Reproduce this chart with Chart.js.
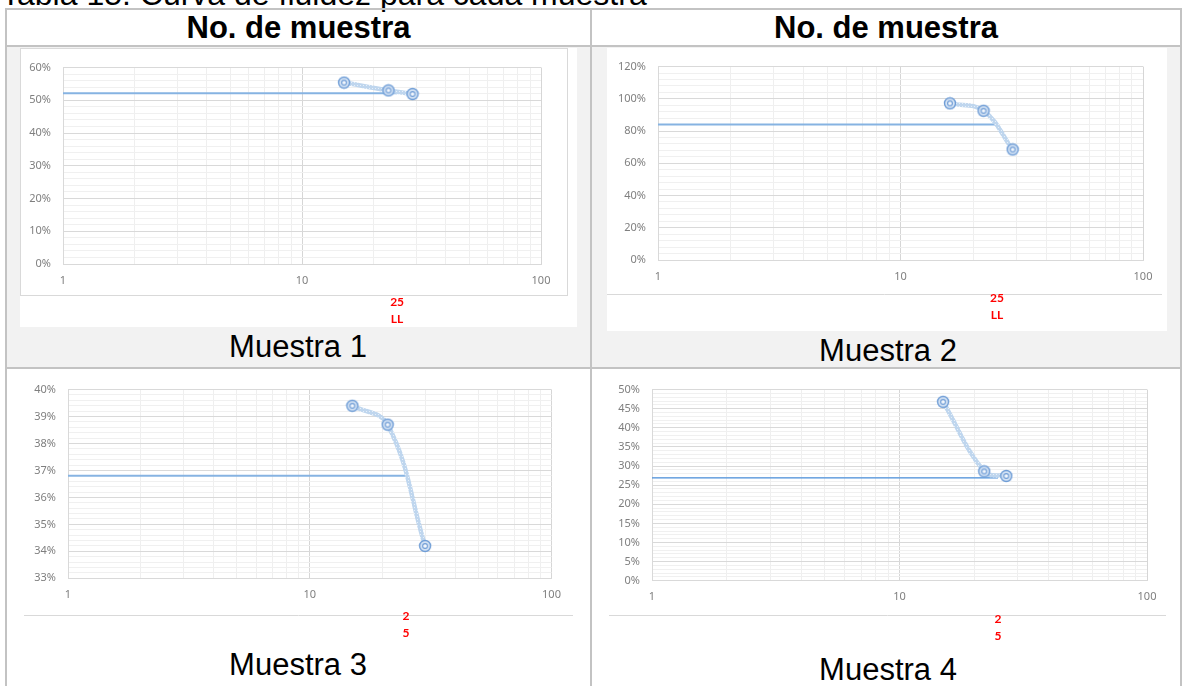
<!DOCTYPE html>
<html lang="es">
<head>
<meta charset="utf-8">
<title>Curva de fluidez para cada muestra</title>
<script src="https://cdn.jsdelivr.net/npm/chart.js@4.4.1/dist/chart.umd.min.js"></script>
<style>
  html, body { margin: 0; padding: 0; background: #fff; }
  body { width: 1184px; height: 686px; position: relative; overflow: hidden; font-family: Arial, "Liberation Sans", sans-serif; color: #000; }
  .txt { position: absolute; white-space: nowrap; line-height: 1; }
  .centro { text-align: center; }
  .borde { position: absolute; background: #c3c3c3; }
  .gris { position: absolute; background: #f2f2f2; }
  .grafico { position: absolute; }
</style>
</head>
<body>

<div class="txt" style="left:1px; top:-22px; font-size:32px;">Tabla 15: Curva de fluidez para cada muestra</div>

<!-- fondo gris de la primera fila de gráficos -->
<div class="gris" style="left:7px; top:47px; width:583px; height:320px;"></div>
<div class="gris" style="left:592px; top:47px; width:588px; height:320px;"></div>

<!-- bordes de la tabla -->
<div class="borde" style="left:5px; top:8px; width:1177px; height:2px;"></div>
<div class="borde" style="left:5px; top:45px; width:1177px; height:2px;"></div>
<div class="borde" style="left:5px; top:367px; width:1177px; height:2px;"></div>
<div class="borde" style="left:5px; top:8px; width:2px; height:678px;"></div>
<div class="borde" style="left:590px; top:8px; width:2px; height:678px;"></div>
<div class="borde" style="left:1180px; top:8px; width:2px; height:678px;"></div>

<div class="txt centro" style="left:7px; width:583px; top:12px; font-size:31px; font-weight:bold;">No. de muestra</div>
<div class="txt centro" style="left:592px; width:588px; top:12px; font-size:31px; font-weight:bold;">No. de muestra</div>

<div class="grafico" id="caja1"><canvas id="g1"></canvas></div>
<div class="grafico" id="caja2"><canvas id="g2"></canvas></div>
<div class="grafico" id="caja3"><canvas id="g3"></canvas></div>
<div class="grafico" id="caja4"><canvas id="g4"></canvas></div>

<div class="txt centro" style="left:198px; width:200px; top:331px; font-size:31px;">Muestra 1</div>
<div class="txt centro" style="left:788px; width:200px; top:335px; font-size:31px;">Muestra 2</div>
<div class="txt centro" style="left:198px; width:200px; top:649px; font-size:31px;">Muestra 3</div>
<div class="txt centro" style="left:788px; width:200px; top:654px; font-size:31px;">Muestra 4</div>

<script>
// número de golpes (eje X logarítmico) y contenido de humedad (%)
const etiquetasX = [1, 10, 100];
const golpesLL = 25;

const golpes1 = [15, 23, 29];
const humedad1 = [55.4, 53.0, 51.9];

const golpes2 = [16, 22, 29];
const humedad2 = [97.2, 92.6, 68.6];

const golpes3 = [15, 21, 30];
const humedad3 = [39.4, 38.7, 34.2];

const golpes4 = [15, 22, 27];
const humedad4 = [46.8, 28.6, 27.4];

// humedad a los 25 golpes (límite líquido)
const limiteLiquido = [52.1, 84.1, 36.8, 26.9];

// rangos y divisiones del eje Y (%)
const ejeYMin = [0, 0, 33, 0];
const ejeYMax = [60, 120, 40, 50];
const pasoMayor = [10, 20, 1, 5];
const pasoMenor = [2, 4, 0.2, 1];

const rotulosLL = [['25', 'LL'], ['25', 'LL'], ['2', '5'], ['2', '5']];

const golpes = [golpes1, golpes2, golpes3, golpes4];
const humedad = [humedad1, humedad2, humedad3, humedad4];

// ubicación de cada gráfico en la página: caja, área de trazado y marco
const marcos = [
  { x: 20,  y: 48,  w: 557, h: 279, fondo: '#fff', plot: [63, 67.5, 541, 264],      marco: 'caja',  lineaY: 295, x0: 20,  x1: 567 },
  { x: 607, y: 48,  w: 560, h: 283, fondo: '#fff', plot: [658, 61.7, 1143, 260],     marco: 'linea', lineaY: 294, x0: 607, x1: 1162 },
  { x: 8,   y: 371, w: 570, h: 275, fondo: 'transparent', plot: [68, 382.7, 551.5, 578.3],  marco: 'linea', lineaY: 615, x0: 24,  x1: 573 },
  { x: 593, y: 371, w: 574, h: 275, fondo: 'transparent', plot: [652, 382.7, 1147, 580.7],  marco: 'linea', lineaY: 615, x0: 609, x1: 1166 }
];

const colorTexto = '#7f7f7f';
const fuenteEje = { family: '"Noto Sans", sans-serif', size: 11 };

function marcador() {
  const c = document.createElement('canvas');
  c.width = 14; c.height = 14;
  const g = c.getContext('2d');
  g.beginPath(); g.arc(7, 7, 5.5, 0, Math.PI * 2);
  g.fillStyle = '#d3e2f4'; g.fill();
  g.lineWidth = 1.4; g.strokeStyle = '#6f9dd6'; g.stroke();
  g.beginPath(); g.arc(7, 7, 2.4, 0, Math.PI * 2);
  g.fillStyle = '#f3f7fc'; g.fill();
  g.lineWidth = 1.1; g.stroke();
  return c;
}

function trama() {
  const c = document.createElement('canvas');
  c.width = 3; c.height = 3;
  const g = c.getContext('2d');
  g.fillStyle = '#bfd6ee'; g.fillRect(0, 0, 3, 3);
  g.fillStyle = '#e6eff9'; g.fillRect(1, 1, 1, 1);
  return g.createPattern(c, 'repeat');
}

const punto = marcador();

// marco del gráfico y rótulo rojo del LL bajo el eje
const decoracion = {
  id: 'decoracion',
  beforeDraw(chart, args, o) {
    const ctx = chart.ctx;
    ctx.save();
    ctx.strokeStyle = '#d9d9d9';
    ctx.lineWidth = 1;
    if (o.marco === 'caja') {
      ctx.strokeRect(o.x0 - o.cx + 0.5, 0.5, o.x1 - o.x0, o.lineaY - o.cy);
    } else {
      ctx.beginPath();
      ctx.moveTo(o.x0 - o.cx, o.lineaY - o.cy + 0.5);
      ctx.lineTo(o.x1 - o.cx, o.lineaY - o.cy + 0.5);
      ctx.stroke();
    }
    ctx.restore();
  },
  afterDraw(chart, args, o) {
    const { ctx, chartArea, scales } = chart;
    const px = scales.x.getPixelForValue(o.valor);
    ctx.save();
    ctx.fillStyle = '#ff0000';
    ctx.font = 'bold 12px Lato, sans-serif';
    ctx.textAlign = 'center';
    ctx.textBaseline = 'middle';
    ctx.fillText(o.texto[0], px, chartArea.bottom + 38);
    ctx.fillText(o.texto[1], px, chartArea.bottom + 55);
    ctx.restore();
  }
};

function esMayor(v, paso) {
  const r = v / paso;
  return Math.abs(r - Math.round(r)) < 1e-6;
}

function crearGrafico(i) {
  const m = marcos[i];
  const caja = document.getElementById('caja' + (i + 1));
  caja.style.left = m.x + 'px';
  caja.style.top = m.y + 'px';
  caja.style.width = m.w + 'px';
  caja.style.height = m.h + 'px';
  caja.style.background = m.fondo;

  const [pl, pt, pr, pb] = m.plot;
  const anchoY = pl - m.x;
  const altoX = 20;

  new Chart(document.getElementById('g' + (i + 1)), {
    type: 'line',
    data: {
      datasets: [
        {
          data: golpes[i].map((g, k) => ({ x: g, y: humedad[i][k] })),
          borderColor: trama(),
          borderWidth: 4.5,
          tension: 0.4,
          pointStyle: punto,
          pointRadius: 6,
          fill: false
        },
        {
          data: [{ x: 1, y: limiteLiquido[i] }, { x: golpesLL, y: limiteLiquido[i] }],
          borderColor: i === 3 ? '#4a8fdb' : '#86b3e2',
          borderWidth: i === 3 ? 1.3 : 2,
          pointRadius: 0,
          fill: false
        }
      ]
    },
    options: {
      responsive: true,
      maintainAspectRatio: false,
      animation: false,
      events: [],
      layout: {
        padding: { left: 0, top: pt - m.y, right: m.x + m.w - pr, bottom: m.y + m.h - pb - altoX }
      },
      plugins: {
        legend: { display: false },
        tooltip: { enabled: false },
        decoracion: {
          marco: m.marco, lineaY: m.lineaY, x0: m.x0, x1: m.x1, cx: m.x, cy: m.y,
          valor: golpesLL, texto: rotulosLL[i]
        }
      },
      scales: {
        x: {
          type: 'logarithmic',
          min: etiquetasX[0],
          max: etiquetasX[etiquetasX.length - 1],
          afterBuildTicks: (s) => {
            const t = [];
            for (let d = 1; d < 100; d *= 10) {
              for (let k = 1; k < 10; k++) t.push({ value: k * d });
            }
            t.push({ value: 100 });
            s.ticks = t;
          },
          afterFit: (s) => { s.height = altoX; },
          grid: {
            drawTicks: false,
            color: (c) => etiquetasX.includes(c.tick.value) ? '#d6d6d6' : '#efefef'
          },
          border: { display: true, color: '#d9d9d9' },
          ticks: {
            autoSkip: false,
            maxRotation: 0,
            padding: 10,
            color: colorTexto,
            font: fuenteEje,
            callback: (v) => etiquetasX.includes(v) ? String(v) : ''
          }
        },
        y: {
          min: ejeYMin[i],
          max: ejeYMax[i],
          afterFit: (s) => { s.width = anchoY; },
          grid: {
            drawTicks: false,
            color: (c) => esMayor(c.tick.value, pasoMayor[i]) ? '#d9d9d9' : '#f0f0f0'
          },
          border: { display: true, color: '#d9d9d9' },
          ticks: {
            stepSize: pasoMenor[i],
            autoSkip: false,
            padding: 12,
            color: colorTexto,
            font: fuenteEje,
            callback: (v) => esMayor(v, pasoMayor[i]) ? Math.round(v) + '%' : ''
          }
        }
      }
    },
    plugins: [decoracion]
  });
}

for (let i = 0; i < 4; i++) crearGrafico(i);
</script>
</body>
</html>
